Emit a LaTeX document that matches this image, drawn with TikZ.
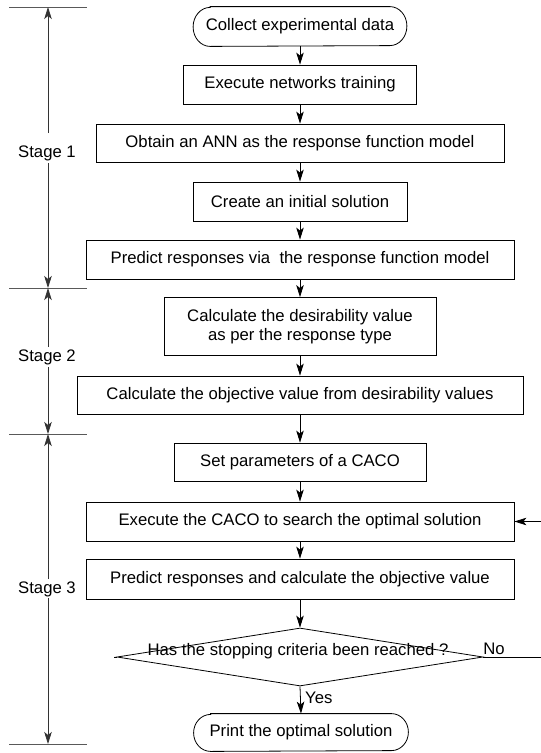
\documentclass[tikz,border=0pt]{standalone}
\usepackage{fontspec}
\setmainfont{Liberation Sans}
\usetikzlibrary{shapes.geometric,arrows.meta}
\newcommand{\diagfont}{\fontsize{16.7}{19}\selectfont}
\begin{document}
\begin{tikzpicture}[x=1pt,y=-1pt,
  box/.style={draw=black, line width=0.8pt, minimum width=#1, minimum height=39pt, inner sep=0pt, align=center, font=\diagfont},
  txt/.style={inner sep=0pt, font=\diagfont},
  arr/.style={line width=0.8pt, -{Stealth[length=12pt,width=7.5pt,inset=3pt]}},
  dim/.style={line width=0.8pt, draw=black!70, -{Stealth[length=12pt,width=7.5pt,inset=3pt]}, color=black!80},
  tick/.style={line width=0.8pt, draw=black!65},
  stad/.style={line width=0.8pt}
]
\useasboundingbox (0,0) rectangle (541,753);

% flow nodes
\node[box=213pt, draw=none] (c1) at (300,26.5) {Collect experimental data};
\draw[stad] ([xshift=17pt]c1.north west) -- ([xshift=-17pt]c1.north east)
  arc[start angle=90,end angle=-90,x radius=17pt,y radius=19.5pt]
  -- ([xshift=17pt]c1.south west)
  arc[start angle=270,end angle=90,x radius=17pt,y radius=19.5pt] -- cycle;
\node[box=233pt] (b2) at (300,84.5) {Execute networks training};
\node[box=408pt, minimum height=38pt] (b3) at (300,143) {Obtain an ANN as the response function model};
\node[box=214pt] (b4) at (300,201.5) {Create an initial solution};
\node[box=428pt] (b5) at (300,259.5) {Predict responses via\ \ the response function model};
\node[box=272pt, minimum height=58pt] (b6) at (300,326.5) {Calculate the desirability value\\as per the response type};
\node[box=446pt, minimum height=38pt] (b7) at (300,395) {Calculate the objective value from desirability values};
\node[box=252pt, minimum height=38pt] (b8) at (300,462) {Set parameters of a CACO};
\node[box=428pt] (b9) at (300,521.5) {Execute the CACO to search the optimal solution};
\node[box=428pt, minimum height=40pt] (b10) at (300,579) {Predict responses and calculate the objective value};
\node[diamond, draw=black, line width=0.8pt, inner sep=0pt, minimum width=366pt, minimum height=58pt, aspect=6.3] (d) at (300,657) {};
\node[txt] (dt) at (298,651) {Has the stopping criteria been reached ?};
\node[box=214pt, minimum height=37pt, draw=none] (c2) at (301,732.5) {Print the optimal solution};
\draw[stad] ([xshift=17pt]c2.north west) -- ([xshift=-17pt]c2.north east)
  arc[start angle=90,end angle=-90,x radius=17pt,y radius=18.5pt]
  -- ([xshift=17pt]c2.south west)
  arc[start angle=270,end angle=90,x radius=17pt,y radius=18.5pt] -- cycle;

% connectors
\draw[arr] (c1.south) -- (b2.north);
\draw[arr] (b2.south) -- (b3.north);
\draw[arr] (b3.south) -- (b4.north);
\draw[arr] (b4.south) -- (b5.north);
\draw[arr] (b5.south) -- (b6.north);
\draw[arr] (b6.south) -- (b7.north);
\draw[arr] (b7.south) -- (b8.north);
\draw[arr] (b8.south) -- (b9.north);
\draw[arr] (b9.south) -- (b10.north);
\draw[arr] (b10.south) -- (d.north);
\draw[arr] (d.south) -- (c2.north);
\node[txt, anchor=west] (yes) at (305,697.5) {Yes};
\coordinate (r1) at (541,521.5);
\draw[arr] (r1) -- (b9.east);
\coordinate (r2) at (541,657);
\draw[line width=0.8pt] (d.east) -- (r2);
\node[txt] (no) at (494,649) {No};
\coordinate (l1) at (114,657);
\draw[line width=1pt] (d.west) -- (l1);

% stage dimension lines
\foreach \n/\yy in {t0/7, t1/288, t2/434, t3/744} {
  \coordinate (\n L) at (9,\yy);
  \coordinate (\n R) at (87,\yy);
  \coordinate (\n) at (48,\yy);
  \draw[tick] (\n L) -- (\n R);
}
\node[txt] (s1) at (47,153) {Stage 1};
\node[txt] (s2) at (47,357) {Stage 2};
\node[txt] (s3) at (47,589) {Stage 3};
\coordinate (s1a) at (48,133); \coordinate (s1b) at (48,163);
\coordinate (s2a) at (48,347); \coordinate (s2b) at (48,367);
\coordinate (s3a) at (48,579); \coordinate (s3b) at (48,598);
\draw[dim] (s1a) -- (t0);
\draw[dim] (s1b) -- (t1);
\draw[dim] (s2a) -- (t1);
\draw[dim] (s2b) -- (t2);
\draw[dim] (s3a) -- (t2);
\draw[dim] (s3b) -- (t3);
\end{tikzpicture}
\end{document}
